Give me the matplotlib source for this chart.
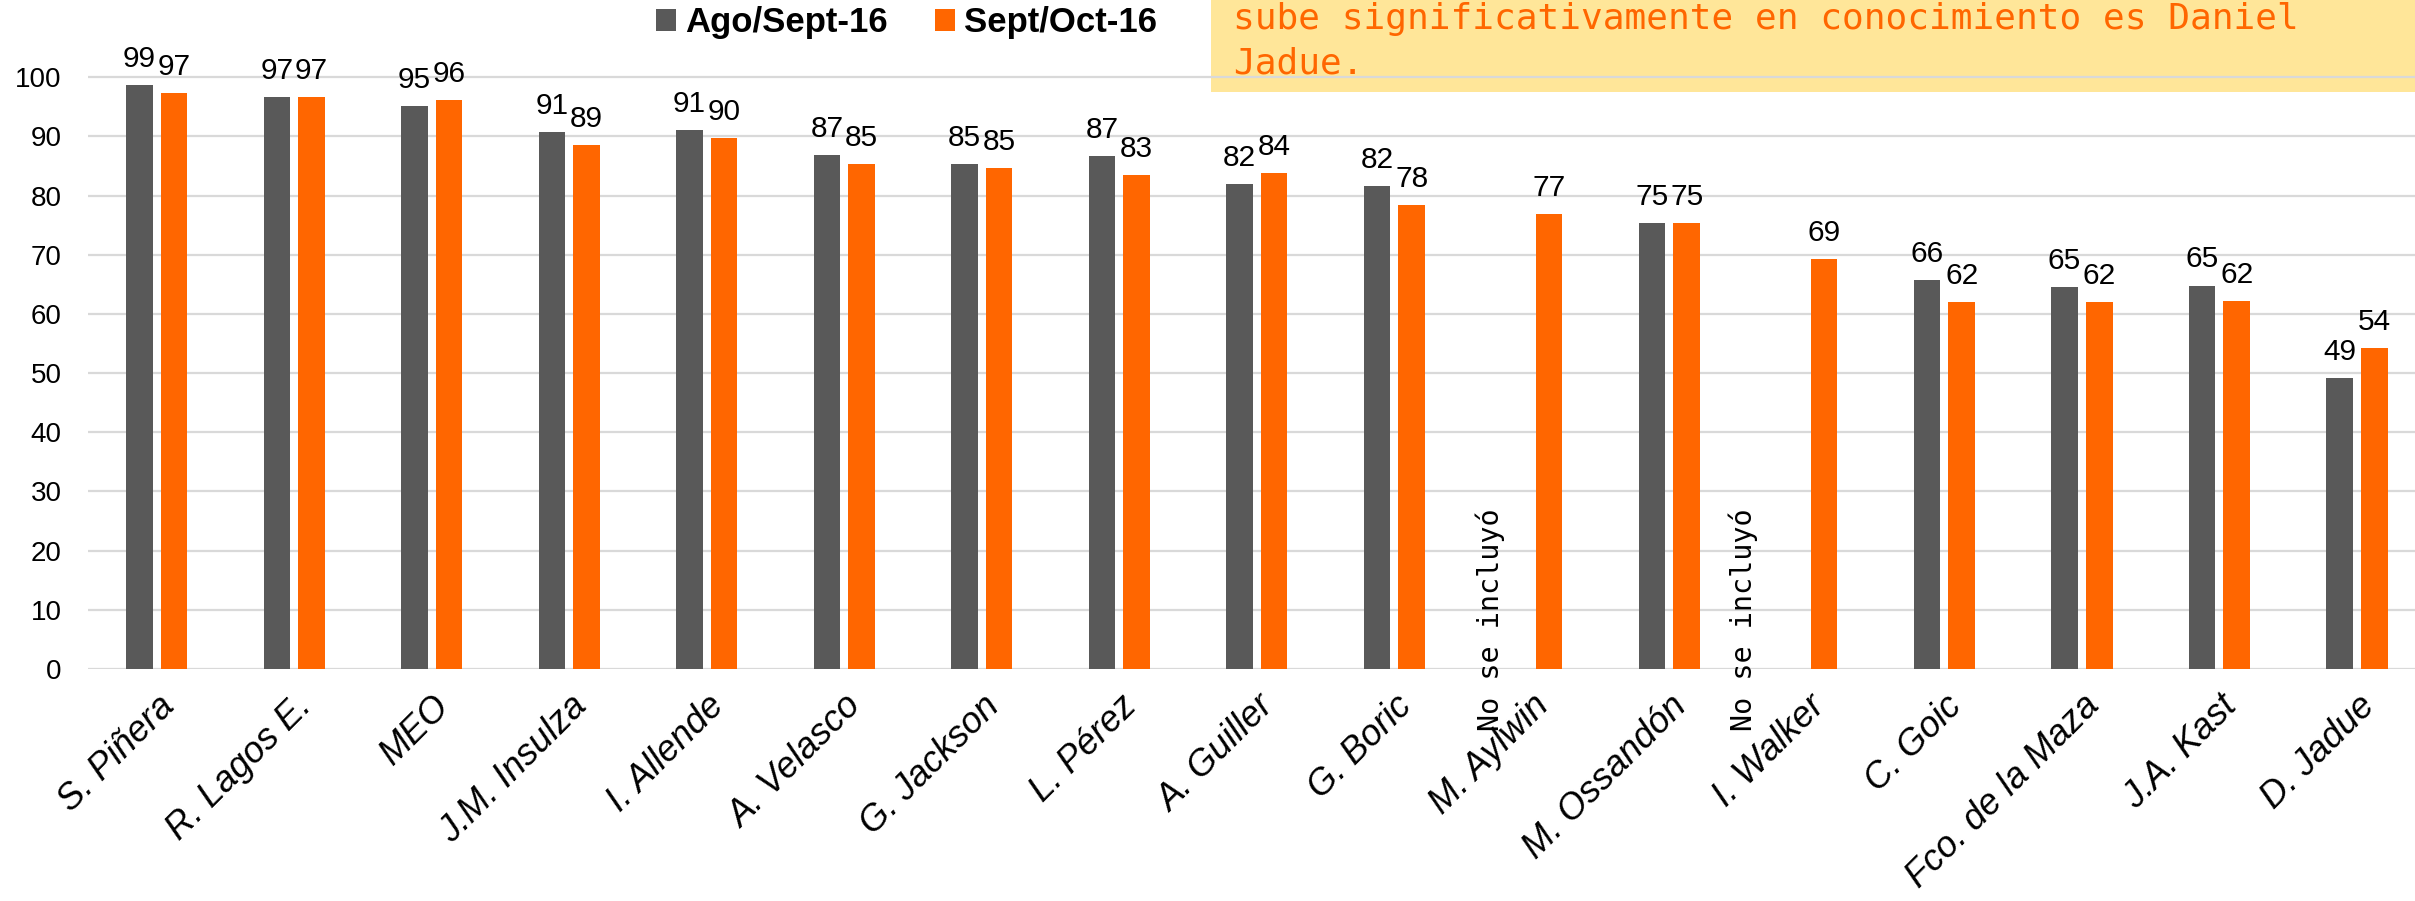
import numpy as np
import matplotlib.pyplot as plt
from matplotlib.patches import Rectangle

# data
candidatos = ['S. Piñera', 'R. Lagos E.', 'MEO', 'J.M. Insulza', 'I. Allende', 'A. Velasco',
              'G. Jackson', 'L. Pérez', 'A. Guiller', 'G. Boric', 'M. Aylwin', 'M. Ossandón',
              'I. Walker', 'C. Goic', 'Fco. de la Maza', 'J.A. Kast', 'D. Jadue']
ago_sept = [98.7, 96.7, 95.1, 90.8, 91.0, 86.9, 85.4, 86.7, 82.0, 81.6, None, 75.4,
            None, 65.7, 64.6, 64.8, 49.2]
sept_oct = [97.4, 96.7, 96.1, 88.6, 89.8, 85.4, 84.6, 83.4, 83.8, 78.4, 76.8, 75.3,
            69.3, 62.0, 62.0, 62.2, 54.2]
serie_names = ['Ago/Sept-16', 'Sept/Oct-16']
nota = ['sube significativamente en conocimiento es Daniel', 'Jadue.']
no_incluido = 'No se incluyó'

GRAY = '#595959'
ORANGE = '#FF6600'

plt.rcParams['font.family'] = ['Liberation Sans', 'DejaVu Sans']

fig = plt.figure(figsize=(24.15, 9.01), dpi=100)
ax = fig.add_axes([0.0364, 0.2575, 0.968, 0.7225])
ax.set_facecolor('none')

x = np.arange(len(candidatos))
w = 0.194
off = 0.126
g_idx = [i for i, v in enumerate(ago_sept) if v is not None]
g_val = [ago_sept[i] for i in g_idx]
b1 = ax.bar(x[g_idx] - off, g_val, width=w, color=GRAY, label=serie_names[0], zorder=3)
b2 = ax.bar(x + off, sept_oct, width=w, color=ORANGE, label=serie_names[1], zorder=3)

for bars, vals in ((b1, g_val), (b2, sept_oct)):
    for r, v in zip(bars, vals):
        ax.annotate(f'{v:.0f}', (r.get_x() + r.get_width() / 2, v), xytext=(0, 13),
                    textcoords='offset points', ha='center', va='baseline', fontsize=21.5)

# missing values note
for xi, xo in ((10, -0.30), (12, -0.46)):
    ax.text(xi + xo, 27.2, no_incluido, rotation=90, ha='center', va='top',
            family='DejaVu Sans Mono', fontsize=20.5, clip_on=False, zorder=4)

ax.set_xlim(-0.5, len(candidatos) - 0.5)
ax.set_ylim(0, 110)
ax.set_yticks(range(0, 101, 10))
ax.set_yticklabels([str(t) for t in range(0, 101, 10)], fontsize=20)
ax.set_xticks(x)
ax.set_xticklabels(candidatos, rotation=45, ha='right', rotation_mode='anchor',
                   fontsize=26, style='italic')
ax.tick_params(axis='both', length=0)
ax.tick_params(axis='y', pad=19)
ax.tick_params(axis='x', pad=14)
ax.grid(axis='y', color='#D9D9D9', linewidth=1.6, zorder=0)
for s in ax.spines.values():
    s.set_visible(False)

leg = fig.legend(loc='upper left', bbox_to_anchor=(656 / 2415, 1 - 6 / 901), ncol=2,
                 frameon=False, borderpad=0, borderaxespad=0,
                 handlelength=0.58, handleheight=0.58, handletextpad=0.26, columnspacing=1.35,
                 prop={'weight': 'bold', 'size': 25})

# yellow note box at top right
fig.patches.append(Rectangle((1211 / 2415, 1 - 92 / 901), 1.0, 92 / 901,
                             transform=fig.transFigure, facecolor='#FFE699',
                             edgecolor='none', zorder=-1))
for line, yb in zip(nota, (29, 73)):
    fig.text(1233 / 2415, 1 - yb / 901, line, family='DejaVu Sans Mono', fontsize=26,
             color=ORANGE, ha='left', va='baseline')

fig.savefig('out.png', dpi=100)
